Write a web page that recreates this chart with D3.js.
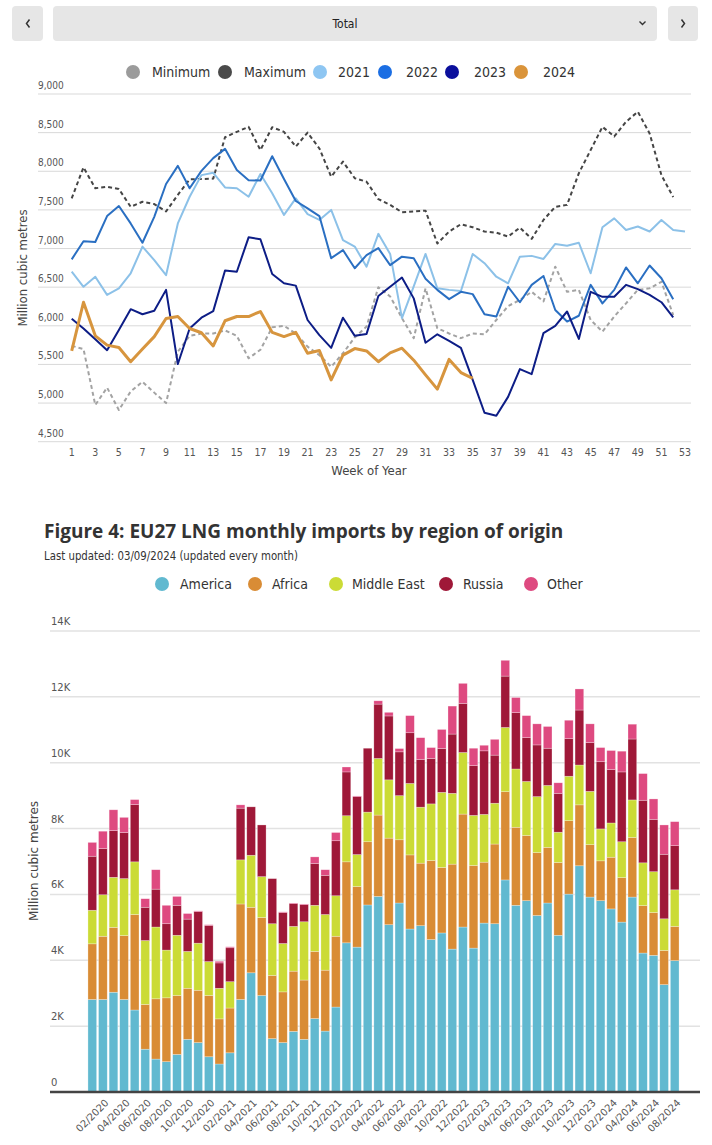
<!DOCTYPE html>
<html><head><meta charset="utf-8">
<script src="https://cdn.jsdelivr.net/npm/d3@7"></script>
<style>body{margin:0;background:#fff}svg{display:block}</style>
</head><body><svg id="c" width="712" height="1145"></svg>
<script>
// ---------- Figure 3 data: weekly LNG imports (million cubic metres) ----------
const weeks = d3.range(1, 54);
const weekTicks = [1,3,5,7,9,11,13,15,17,19,21,23,25,27,29,31,33,35,37,39,41,43,45,47,49,51,53];
const valueTicks = [4500,5000,5500,6000,6500,7000,7500,8000,8500,9000];
const minimum = [5740,5700,4975,5200,4910,5150,5275,5135,5000,5665,5870,5900,5900,5940,5870,5580,5690,5980,6000,5900,5730,5620,5470,5645,5850,5990,6500,6380,6100,5840,6485,5970,5900,5840,5900,5890,6075,6255,6335,6440,6315,6765,6440,6465,6075,5925,6120,6290,6465,6485,6570,6140];
const maximum = [7650,8050,7780,7800,7770,7540,7605,7575,7480,7695,7895,7900,7905,8440,8510,8575,8275,8570,8510,8320,8500,8295,7930,8125,7910,7865,7640,7565,7470,7480,7490,7065,7220,7315,7275,7220,7205,7155,7270,7125,7370,7540,7565,7975,8275,8575,8450,8640,8770,8490,7950,7665];
const y2021 = [6700,6505,6635,6400,6485,6680,7025,6850,6655,7325,7670,7950,7980,7790,7780,7670,7965,7715,7435,7650,7445,7370,7500,7110,7025,6765,7190,6930,6100,6510,6930,6485,6465,6450,6930,6810,6635,6550,6895,6905,6865,7060,7035,7075,6680,7275,7390,7240,7285,7220,7370,7240,7220];
const y2022 = [6860,7095,7085,7420,7550,7325,7075,7410,7835,8070,7780,8005,8170,8290,8015,7885,7880,8195,7900,7615,7520,7420,6875,6980,6745,6915,7005,6785,6895,6875,6610,6465,6345,6440,6410,6150,6120,6505,6305,6530,6645,6205,6055,6130,6530,6290,6465,6755,6550,6780,6615,6345];
const y2023 = [6090,5965,5825,5685,5945,6215,6150,6195,6465,5505,5965,6105,6190,6715,6700,7145,7120,6670,6550,6520,6075,5880,5715,6105,5870,5895,6385,6505,6625,6355,5780,5890,5805,5715,5300,4875,4835,5080,5440,5375,5905,6000,6185,5830,6440,6375,6375,6530,6475,6400,6305,6110];
const y2024 = [5675,6305,5870,5750,5720,5535,5700,5860,6095,6120,5965,5910,5740,6065,6120,6120,6185,5915,5860,5915,5645,5680,5300,5620,5705,5675,5535,5650,5710,5555,5365,5180,5565,5395,5320];
const lineSeries = [
  {name:"Minimum", values:minimum, color:"#a3a3a3", legend:"#9b9b9b", dash:"4,3", w:2},
  {name:"Maximum", values:maximum, color:"#454545", legend:"#4a4a4a", dash:"4,3", w:2},
  {name:"2021", values:y2021, color:"#8cc1e8", legend:"#8ec6f2", dash:null, w:2},
  {name:"2022", values:y2022, color:"#2a6fc2", legend:"#1b6ee3", dash:null, w:2},
  {name:"2023", values:y2023, color:"#0d1d86", legend:"#0b0f9c", dash:null, w:2},
  {name:"2024", values:y2024, color:"#d7953e", legend:"#da943a", dash:null, w:3}
];

// ---------- Figure 4 data: monthly LNG imports by region (million cubic metres) ----------
const months = ["01/2020","02/2020","03/2020","04/2020","05/2020","06/2020","07/2020","08/2020","09/2020","10/2020","11/2020","12/2020",
"01/2021","02/2021","03/2021","04/2021","05/2021","06/2021","07/2021","08/2021","09/2021","10/2021","11/2021","12/2021",
"01/2022","02/2022","03/2022","04/2022","05/2022","06/2022","07/2022","08/2022","09/2022","10/2022","11/2022","12/2022",
"01/2023","02/2023","03/2023","04/2023","05/2023","06/2023","07/2023","08/2023","09/2023","10/2023","11/2023","12/2023",
"01/2024","02/2024","03/2024","04/2024","05/2024","06/2024","07/2024","08/2024"];
const america = [2810,2810,3030,2810,2490,1300,1000,920,1140,1600,1500,1070,850,1190,2810,3620,2930,1620,1500,1840,1600,2230,1850,2580,4530,4400,5680,5940,5080,5740,4950,5050,4630,4830,4340,5010,4370,5130,5110,6440,5670,5810,5360,5740,4760,6010,6870,5920,5810,5560,5160,5920,4220,4150,3260,3990];
const africa = [1690,1920,1970,1940,2900,1360,1830,1940,1790,1550,1590,1860,1370,1360,2900,1990,2370,1920,1540,1830,1800,2040,1850,2150,2460,1840,1920,2470,2630,1920,2250,1900,2400,1990,2580,3430,2510,1850,2420,2680,2370,1980,1910,1690,2210,2230,1850,1590,1210,1570,1350,1810,1440,1300,1040,1040];
const middleEast = [1020,1260,1520,1730,1600,1940,2180,1450,1830,1120,1430,1030,930,800,1340,1580,1240,1570,1470,1360,1770,1400,1690,1230,1400,970,900,1720,1770,1340,2170,1700,1720,2280,2150,1870,1520,1450,1240,1950,1770,1640,1700,1880,920,1350,1210,1620,970,1040,1090,1140,1300,1240,960,1110];
const russia = [1640,1400,1420,1400,1740,1010,1150,800,910,980,960,1100,770,1030,1570,1470,1570,1370,940,690,520,1270,1190,1670,1330,1760,1940,1650,1940,1330,1540,1450,1380,1330,1800,1490,1510,1930,1460,1560,1710,1330,1570,1130,1180,1140,1670,1480,2040,1620,2120,1850,1900,1590,1960,1340];
const other = [420,530,630,460,150,260,590,560,270,170,20,20,50,30,100,0,0,0,20,20,20,200,170,250,150,20,0,100,110,100,520,660,330,580,850,610,530,170,480,480,460,670,640,660,320,560,640,570,430,580,630,450,810,620,890,730];
const regionTicks = [0,2000,4000,6000,8000,10000,12000,14000];
const regions = [
  {key:"America", values:america, color:"#61b9d0"},
  {key:"Africa", values:africa, color:"#d98c35"},
  {key:"Middle East", values:middleEast, color:"#cbdb36"},
  {key:"Russia", values:russia, color:"#9f1838"},
  {key:"Other", values:other, color:"#de4a80"}
];

const CF = '"Liberation Sans Narrow","DejaVu Sans Condensed","Roboto Condensed",Roboto,sans-serif';
const NF = '"DejaVu Sans",Verdana,sans-serif';
const svg = d3.select("#c");

// ---------- navigation bar ----------
const nav = svg.append("g");
[[12,31],[53,604],[668,30]].forEach(([x,w]) => nav.append("rect").attr("x",x).attr("y",6).attr("width",w).attr("height",35).attr("rx",4).attr("fill","#e6e6e6"));
nav.append("path").attr("d","M29.5,19.5 L26.5,23.5 L29.5,27.5").attr("fill","none").attr("stroke","#333").attr("stroke-width",1.5);
nav.append("path").attr("d","M681.5,19.5 L684.5,23.5 L681.5,27.5").attr("fill","none").attr("stroke","#333").attr("stroke-width",1.5);
nav.append("path").attr("d","M639.5,21.5 L642.5,24.5 L645.5,21.5").attr("fill","none").attr("stroke","#333").attr("stroke-width",1.4);
nav.append("text").attr("x",345).attr("y",27.5).attr("text-anchor","middle").attr("font-family",CF).attr("font-size",12).attr("fill","#222").text("Total");

// ---------- legend 1 ----------
const leg1X = [[133,152],[225,244],[320,338],[385,406],[452,474],[521,543]];
lineSeries.forEach((s,i) => {
  svg.append("circle").attr("cx",leg1X[i][0]).attr("cy",72).attr("r",7).attr("fill",s.legend);
  svg.append("text").attr("x",leg1X[i][1]).attr("y",77).attr("font-family",CF).attr("font-size",14).attr("fill","#333").text(s.name);
});

// ---------- chart 1 ----------
const x1 = d3.scaleLinear().domain([1,53]).range([71.7,685]);
const y1 = d3.scaleLinear().domain([4500,9000]).range([441.7,94]);
const g1 = svg.append("g");
g1.selectAll("line.grid").data(valueTicks).join("line").attr("class","grid")
  .attr("x1",38).attr("x2",691).attr("y1",d=>y1(d)).attr("y2",d=>y1(d)).attr("stroke","#d9d9d9").attr("stroke-width",1);
g1.selectAll("text.yt").data(valueTicks).join("text").attr("class","yt")
  .attr("x",38).attr("y",d=>y1(d)-5).attr("font-family",CF).attr("font-size",10).attr("fill","#555").text(d3.format(","));
g1.selectAll("text.xt").data(weekTicks).join("text").attr("class","xt")
  .attr("x",d=>x1(d)).attr("y",456).attr("text-anchor","middle").attr("font-family",CF).attr("font-size",10.5).attr("fill","#555").text(d=>d);
g1.append("text").attr("x",369).attr("y",475).attr("text-anchor","middle").attr("font-family",CF).attr("font-size",13).attr("fill","#444").text("Week of Year");
g1.append("text").attr("transform","translate(27,268) rotate(-90)").attr("text-anchor","middle").attr("font-family",CF).attr("font-size",13).attr("fill","#444").text("Million cubic metres");
const line = d3.line().x((d,i)=>x1(weeks[i])).y(d=>y1(d)).defined(d=>d!=null);
lineSeries.forEach(s => {
  g1.append("path").datum(s.values).attr("d",line).attr("fill","none").attr("stroke",s.color)
    .attr("stroke-width",s.w).attr("stroke-dasharray",s.dash).attr("stroke-linejoin","round").attr("stroke-linecap","butt");
});

// ---------- Figure 4 title ----------
svg.append("text").attr("x",44).attr("y",538).attr("font-family",'"Open Sans",sans-serif').attr("font-weight",700).attr("font-size",19).attr("fill","#333").text("Figure 4: EU27 LNG monthly imports by region of origin");
svg.append("text").attr("x",44).attr("y",560).attr("font-family",CF).attr("font-size",12.5).attr("textLength",254).attr("lengthAdjust","spacingAndGlyphs").attr("fill","#333").text("Last updated: 03/09/2024 (updated every month)");

// ---------- legend 2 ----------
const leg2X = [[162,180],[255,272],[336,352],[446,463],[531,547]];
regions.forEach((r,i) => {
  svg.append("circle").attr("cx",leg2X[i][0]).attr("cy",584).attr("r",7).attr("fill",r.color);
  svg.append("text").attr("x",leg2X[i][1]).attr("y",589).attr("font-family",CF).attr("font-size",14).attr("fill","#333").text(r.key);
});

// ---------- chart 2 ----------
const table = months.map((m,i) => { const o={month:m}; regions.forEach(r=>o[r.key]=r.values[i]); return o; });
const stack = d3.stack().keys(regions.map(r=>r.key))(table);
const xb = d3.scaleBand().domain(months).range([87,680]).paddingInner(0.18).paddingOuter(0.09);
const y2 = d3.scaleLinear().domain([0,14000]).range([1092,631]);
const g2 = svg.append("g");
g2.selectAll("line.grid").data(regionTicks.filter(d=>d>0)).join("line").attr("class","grid")
  .attr("x1",50).attr("x2",700).attr("y1",d=>y2(d)).attr("y2",d=>y2(d)).attr("stroke","#e2e2e2").attr("stroke-width",1.5);
g2.selectAll("text.yt").data(regionTicks).join("text").attr("class","yt")
  .attr("x",51).attr("y",d=>y2(d)-6).attr("font-family",NF).attr("font-size",10).attr("fill","#555").text(d=>d===0?"0":(d/1000)+"K");
stack.forEach((layer,li) => {
  g2.append("g").selectAll("rect").data(layer).join("rect")
    .attr("x",d=>xb(d.data.month)).attr("width",xb.bandwidth())
    .attr("y",d=>y2(d[1])).attr("height",d=>Math.max(0,y2(d[0])-y2(d[1])))
    .attr("fill",regions[li].color).attr("stroke","#fff").attr("stroke-opacity",0.45).attr("stroke-width",0.6);
});
g2.append("line").attr("x1",50).attr("x2",700).attr("y1",1092).attr("y2",1092).attr("stroke","#444").attr("stroke-width",2.5);
g2.selectAll("text.xt").data(months.filter((m,i)=>i%2===1)).join("text").attr("class","xt")
  .attr("transform",d=>`translate(${xb(d)+xb.bandwidth()/2+4},1101) rotate(-45)`)
  .attr("text-anchor","end").attr("dy","0.35em").attr("font-family",NF).attr("font-size",10).attr("fill","#555").text(d=>d);
g2.append("text").attr("transform","translate(38,861) rotate(-90)").attr("text-anchor","middle").attr("font-family",NF).attr("font-size",12).attr("fill","#444").text("Million cubic metres");
</script></body></html>
